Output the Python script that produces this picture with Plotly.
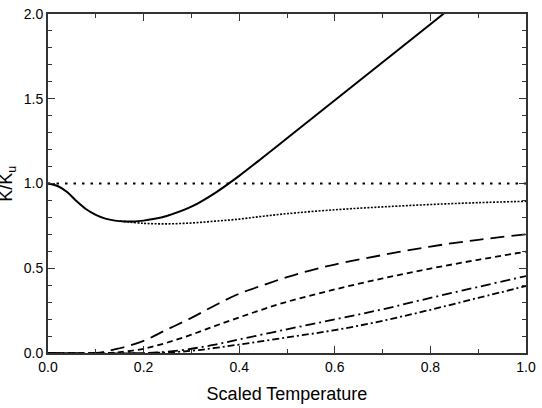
import plotly.graph_objects as go

# ---- data ----
solid_x = [0.0, 0.02, 0.04, 0.06, 0.08, 0.10, 0.12, 0.14, 0.16, 0.18, 0.20, 0.22, 0.25, 0.30,
           0.35, 0.40, 0.45, 0.50, 0.55, 0.60, 0.65, 0.70, 0.75, 0.80, 0.85]
solid_y = [1.0, 0.985, 0.95, 0.895, 0.848, 0.815, 0.793, 0.781, 0.776, 0.776, 0.781, 0.79, 0.81,
           0.863, 0.945, 1.045, 1.155, 1.267, 1.379, 1.491, 1.603, 1.715, 1.827, 1.94, 2.052]

dotted_x = [0.15, 0.20, 0.25, 0.30, 0.35, 0.40, 0.45, 0.50, 0.60, 0.70, 0.80, 0.90, 1.0]
dotted_y = [0.779, 0.765, 0.762, 0.767, 0.778, 0.79, 0.807, 0.822, 0.845, 0.862, 0.876, 0.887, 0.895]

ref_x = [0.0, 1.0]
ref_y = [1.0, 1.0]

longdash_x = [0.0, 0.10, 0.15, 0.20, 0.25, 0.30, 0.35, 0.40, 0.45, 0.50, 0.55, 0.60, 0.70, 0.80, 0.90, 1.0]
longdash_y = [0.0, 0.0, 0.028, 0.072, 0.14, 0.207, 0.282, 0.35, 0.40, 0.448, 0.488, 0.522, 0.578, 0.628, 0.668, 0.70]

shortdash_x = [0.0, 0.12, 0.15, 0.20, 0.25, 0.30, 0.35, 0.40, 0.45, 0.50, 0.60, 0.70, 0.80, 0.90, 1.0]
shortdash_y = [0.0, 0.0, 0.005, 0.025, 0.062, 0.108, 0.16, 0.21, 0.258, 0.302, 0.375, 0.44, 0.498, 0.55, 0.598]

dashdot1_x = [0.0, 0.20, 0.25, 0.30, 0.35, 0.40, 0.50, 0.60, 0.70, 0.80, 0.90, 1.0]
dashdot1_y = [0.0, 0.0, 0.008, 0.025, 0.05, 0.08, 0.14, 0.198, 0.258, 0.325, 0.39, 0.454]

dashdot2_x = [0.0, 0.22, 0.30, 0.35, 0.40, 0.50, 0.60, 0.70, 0.80, 0.90, 1.0]
dashdot2_y = [0.0, 0.0, 0.013, 0.03, 0.05, 0.092, 0.135, 0.19, 0.255, 0.325, 0.395]

x_ticks = [0.0, 0.2, 0.4, 0.6, 0.8, 1.0]
x_ticklabels = ["0.0", "0.2", "0.4", "0.6", "0.8", "1.0"]
y_ticks = [0.0, 0.5, 1.0, 1.5, 2.0]
y_ticklabels = ["0.0", "0.5", "1.0", "1.5", "2.0"]

fig = go.Figure()
def add(x, y, dash, w=1.8, shape="spline"):
    fig.add_trace(go.Scatter(x=x, y=y, mode="lines",
                             line=dict(color="black", width=w, dash=dash, shape=shape, smoothing=1.0),
                             showlegend=False, hoverinfo="skip", cliponaxis=True))

add(ref_x, ref_y, "2.5px,6px", 2, "linear")
add(dotted_x, dotted_y, "2px,1.5px", 1.6)
add(longdash_x, longdash_y, "14px,7px")
add(shortdash_x, shortdash_y, "6px,4px")
add(dashdot1_x, dashdot1_y, "10px,4px,2px,4px")
add(dashdot2_x, dashdot2_y, "7px,3px,2px,3px")
add(solid_x, solid_y, "solid", 2)

axis_common = dict(showgrid=False, zeroline=False, showline=True, linecolor="#333333", linewidth=2,
                   mirror="allticks", ticks="inside", ticklen=7, tickwidth=1.2, tickcolor="#333333",
                   automargin=False,
                   tickfont=dict(family="Liberation Sans, Arial", size=14, color="black"))

fig.update_xaxes(range=[0, 1], tickvals=x_ticks, ticktext=x_ticklabels,
                 minor=dict(ticks="inside", ticklen=4, dtick=0.1, tickwidth=1.2, tickcolor="#333333"),
                 title=dict(text="Scaled Temperature", font=dict(family="Liberation Sans, Arial", size=18, color="black"), standoff=14),
                 **axis_common)
fig.update_yaxes(range=[0, 2], tickvals=y_ticks, ticktext=y_ticklabels,
                 minor=dict(ticks="inside", ticklen=4, dtick=0.1, tickwidth=1.2, tickcolor="#333333"),
                 **axis_common)

fig.add_annotation(text="K/K<sub>u</sub>", xref="paper", yref="paper", x=-0.085, y=0.5,
                   xanchor="center", yanchor="middle", textangle=-90, showarrow=False,
                   font=dict(family="Liberation Sans, Arial", size=18, color="black"))

fig.update_layout(width=542, height=408, plot_bgcolor="white", paper_bgcolor="white",
                  margin=dict(l=48, r=16, t=14, b=55, autoexpand=False))

fig.write_html("out.html")
